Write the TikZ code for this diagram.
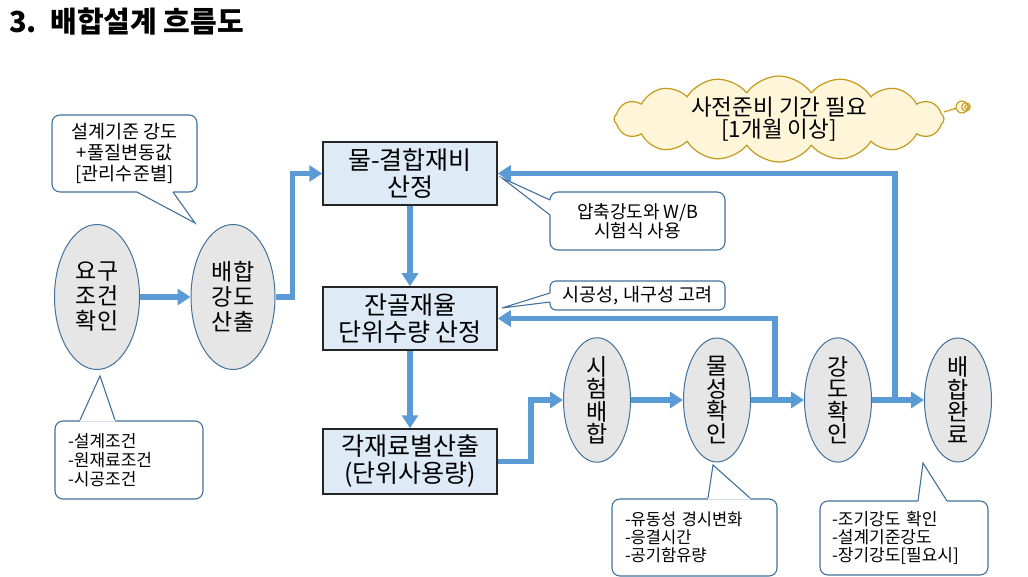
\documentclass[tikz,border=0pt]{standalone}
\usepackage{fontspec}
\setmainfont{Noto Sans CJK KR}
\usetikzlibrary{shapes.geometric,shapes.symbols,arrows.meta,calc}
\definecolor{flowblue}{HTML}{5B9BD5}
\definecolor{ellfill}{HTML}{E6E6E6}
\definecolor{ellline}{HTML}{41719C}
\definecolor{boxfill}{HTML}{DEEBF7}
\definecolor{boxline}{HTML}{262626}
\definecolor{calline}{HTML}{41719C}
\definecolor{cloudfill}{HTML}{FFF6DA}
\definecolor{cloudline}{HTML}{C49A1C}
\newcommand\callptr[4]{%
  \fill[white] (#1) -- (#2) -- (#3) -- ($(#3)+(#4)$) -- ($(#1)+(#4)$) -- cycle;
  \draw[calloutline] (#1) -- (#2) -- (#3);}
\begin{document}
\begin{tikzpicture}[x=1pt,y=-1pt,
  flow/.style={draw=flowblue,line width=5.5pt,-{Triangle[length=13pt,width=16pt]}},
  bigell/.style={ellipse,draw=ellline,line width=1pt,fill=ellfill,inner sep=0pt,
     minimum width=85pt,minimum height=145pt,align=center,
     font=\fontsize{23}{25}\selectfont},
  smallell/.style={ellipse,draw=ellline,line width=1pt,fill=ellfill,inner sep=0pt,
     minimum width=67pt,minimum height=124pt,align=center,
     font=\fontsize{23}{22.5}\selectfont},
  stepbox/.style={rectangle,draw=boxline,line width=1.5pt,fill=boxfill,inner sep=0pt,
     minimum width=174pt,minimum height=63pt,align=center,
     font=\fontsize{25}{27}\selectfont},
  calloutbox/.style={rectangle,rounded corners=8pt,draw=calline,line width=1.1pt,
     fill=white,inner sep=0pt,font=\fontsize{18}{20}\selectfont},
  calloutline/.style={draw=calline,line width=1.1pt,line join=miter}
]
\useasboundingbox (0,0) rectangle (1028,577);

% title
\node[anchor=west,inner sep=0pt,font=\fontsize{29}{32}\selectfont\bfseries] (title) at (9,22) {3.~~배합설계 흐름도};

% cloud
\draw[cloudline,line width=1.2pt] (944,112) -- (957,108);
\draw[cloudline,line width=1.1pt,fill=cloudfill] (962,107) circle (6);
\draw[cloudline,line width=1pt] (966,107) circle (4.3);
\draw[cloudline,line width=1pt] (967,107) circle (2.2);
\node[cloud,cloud puffs=16,cloud puff arc=110,cloud ignores aspect,draw=cloudline,line width=1.2pt,
  fill=cloudfill,minimum width=330pt,minimum height=82pt,inner sep=0pt,align=center,
  font=\fontsize{22.5}{20}\selectfont] (cloud) at (779,119) {사전준비 기간 필요\\{}[1개월 이상]};

% main nodes
\node[bigell] (req) at (97,297) {요구\\조건\\확인};
\node[bigell,minimum width=84pt] (str) at (233,297) {배합\\강도\\산출};
\node[stepbox] (wb) at (410,173.5) {물-결합재비\\산정};
\node[stepbox] (sa) at (410,318.5) {잔골재율\\단위수량 산정};
\node[stepbox,minimum height=65pt] (mat) at (410,461.5) {각재료별산출\\(단위사용량)};
\node[smallell] (trial) at (597,400) {시\\험\\배\\합};
\node[smallell] (prop) at (717,400) {물\\성\\확\\인};
\node[smallell] (chk) at (838,400) {강\\도\\확\\인};
\node[smallell] (done) at (958,400) {배\\합\\완\\료};

% flow connectors
\draw[flow] (req) -- (str);
\draw[flow] (str.east) -- ++(17,0) |- (wb.west);
\draw[flow] (wb) -- (sa);
\draw[flow] (sa) -- (mat);
\draw[flow] (mat.east) -- ++(33,0) |- (trial.west);
\draw[flow] (trial) -- (prop);
\draw[flow] (prop) -- (chk);
\draw[flow] (chk) -- (done);
\coordinate (fbA) at (775,400);
\coordinate (fbB) at (895,400);
\draw[flow] (fbB) |- (wb.east);
\draw[flow] (fbA) |- (sa.east);

% callouts
\node[calloutbox,minimum width=145pt,minimum height=77pt,align=center,
  font=\fontsize{18.5}{21}\selectfont] (c1) at (124.5,153.5) {설계기준 강도\\+풀질변동값\\{}[관리수준별]};
\callptr{137,192}{195,223}{173,192}{0,-1.6}

\node[calloutbox,minimum width=175pt,minimum height=58pt,align=center,
  font=\fontsize{18}{19}\selectfont] (c2) at (637.5,221) {압축강도와 W/B\\시험식 사용};
\callptr{550,200}{502,178}{550,215}{1.6,0}

\node[calloutbox,rounded corners=6pt,minimum width=175pt,minimum height=29pt,align=center,
  font=\fontsize{18.5}{20}\selectfont] (c3) at (637.5,295.5) {시공성, 내구성 고려};
\callptr{550,293}{502,308}{550,302}{1.6,0}

\node[calloutbox,minimum width=148pt,minimum height=78pt,align=left,text width=122pt,
  font=\fontsize{17}{19}\selectfont] (c4) at (129,460) {-설계조건\\-원재료조건\\-시공조건};
\callptr{80,420}{100,376}{115,420}{0,1.6}

\node[calloutbox,minimum width=165pt,minimum height=77pt,align=left,text width=139pt,
  font=\fontsize{16.5}{18}\selectfont] (c5) at (694.5,537.5) {-유동성 경시변화\\-응결시간\\-공기함유량};
\callptr{708,498}{713,465}{750,498}{0,1.6}

\node[calloutbox,minimum width=168pt,minimum height=74pt,align=left,text width=144pt,
  font=\fontsize{17}{18}\selectfont] (c6) at (904,538) {-조기강도 확인\\-설계기준강도\\-장기강도[필요시]};
\callptr{918,501}{923,463}{947,501}{0,1.6}
\end{tikzpicture}
\end{document}
